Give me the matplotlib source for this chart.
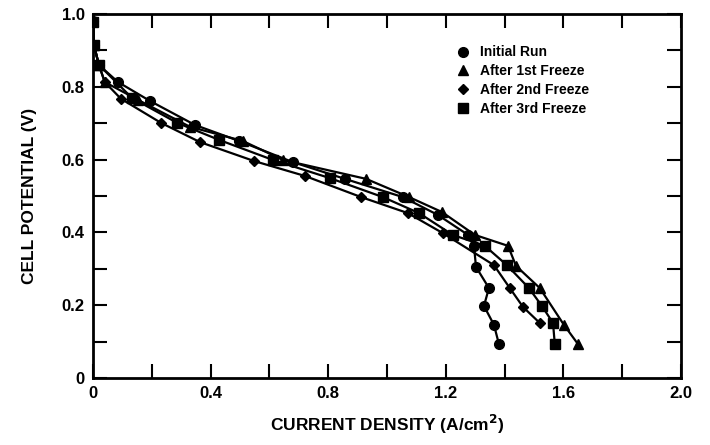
import matplotlib.pyplot as plt
from matplotlib.ticker import MultipleLocator, FixedLocator

plt.rcParams['font.family'] = ['Liberation Sans', 'DejaVu Sans']
plt.rcParams['font.weight'] = 'bold'

# Datos
x_inicial = [0.0, 0.003, 0.02, 0.085, 0.194, 0.347, 0.497, 0.68, 0.857, 1.054, 1.173,
             1.276, 1.296, 1.303, 1.347, 1.330, 1.364, 1.381]
y_inicial = [0.98, 0.915, 0.86, 0.813, 0.761, 0.695, 0.651, 0.593, 0.547, 0.497, 0.448,
             0.393, 0.363, 0.305, 0.247, 0.198, 0.146, 0.093]

x_frz1 = [0.0, 0.003, 0.02, 0.04, 0.153, 0.33, 0.51, 0.646, 0.929, 1.075, 1.187,
          1.299, 1.412, 1.439, 1.520, 1.602, 1.650]
y_frz1 = [0.98, 0.915, 0.86, 0.813, 0.764, 0.69, 0.651, 0.599, 0.547, 0.497, 0.456,
          0.393, 0.363, 0.308, 0.247, 0.146, 0.093]

x_frz2 = [0.0, 0.003, 0.02, 0.04, 0.095, 0.231, 0.364, 0.548, 0.721, 0.912, 1.071,
          1.190, 1.364, 1.418, 1.463, 1.520]
y_frz2 = [0.98, 0.915, 0.86, 0.813, 0.767, 0.701, 0.648, 0.596, 0.555, 0.497, 0.453,
          0.398, 0.31, 0.247, 0.195, 0.151]

x_frz3 = [0.0, 0.003, 0.02, 0.133, 0.286, 0.429, 0.612, 0.806, 0.986, 1.109, 1.224,
          1.333, 1.408, 1.483, 1.527, 1.565, 1.571]
y_frz3 = [0.978, 0.915, 0.86, 0.769, 0.701, 0.654, 0.599, 0.549, 0.497, 0.453, 0.393,
          0.363, 0.31, 0.247, 0.198, 0.151, 0.093]

etiquetas = ['Initial Run', 'After 1st Freeze', 'After 2nd Freeze', 'After 3rd Freeze']

fig = plt.figure(figsize=(7.1, 4.45), dpi=100)
ax = fig.add_axes([0.131, 0.1506, 0.828, 0.818])

estilo = dict(color='black', linewidth=1.6, markersize=7)
ax.plot(x_inicial, y_inicial, marker='o', label=etiquetas[0], **estilo)
ax.plot(x_frz1, y_frz1, marker='^', label=etiquetas[1], **estilo)
ax.plot(x_frz2, y_frz2, marker='D', label=etiquetas[2], color='black', linewidth=1.6, markersize=5)
ax.plot(x_frz3, y_frz3, marker='s', label=etiquetas[3], **estilo)

ax.set_xlim(0, 2.0)
ax.set_ylim(0, 1.0)

ax.xaxis.set_major_locator(FixedLocator([0, 0.4, 0.8, 1.2, 1.6, 2.0]))
ax.xaxis.set_minor_locator(MultipleLocator(0.2))
ax.set_xticklabels(['0', '0.4', '0.8', '1.2', '1.6', '2.0'])
ax.yaxis.set_major_locator(FixedLocator([0, 0.2, 0.4, 0.6, 0.8, 1.0]))
ax.yaxis.set_minor_locator(MultipleLocator(0.1))
ax.set_yticklabels(['0', '0.2', '0.4', '0.6', '0.8', '1.0'])

for lado in ax.spines.values():
    lado.set_linewidth(2)
ax.tick_params(which='both', direction='in', top=True, right=True, width=1.5,
               labelsize=12, pad=6)
ax.tick_params(which='major', length=10)
ax.tick_params(which='minor', length=10)
for t in ax.get_xticklabels() + ax.get_yticklabels():
    t.set_fontweight('bold')

ax.set_xlabel('CURRENT DENSITY (A/cm$^\\mathbf{2}$)', fontsize=12.5, fontweight='bold', labelpad=8)
ax.set_ylabel('CELL POTENTIAL (V)', fontsize=12.5, fontweight='bold', labelpad=18)

leg = ax.legend(loc='upper right', bbox_to_anchor=(0.865, 0.948), frameon=False,
                prop={'weight': 'bold', 'size': 10}, handlelength=0.8,
                handletextpad=0.8, labelspacing=0.35)
for h in leg.legend_handles:
    h.set_linestyle('')

fig.savefig('out.png', dpi=100)
